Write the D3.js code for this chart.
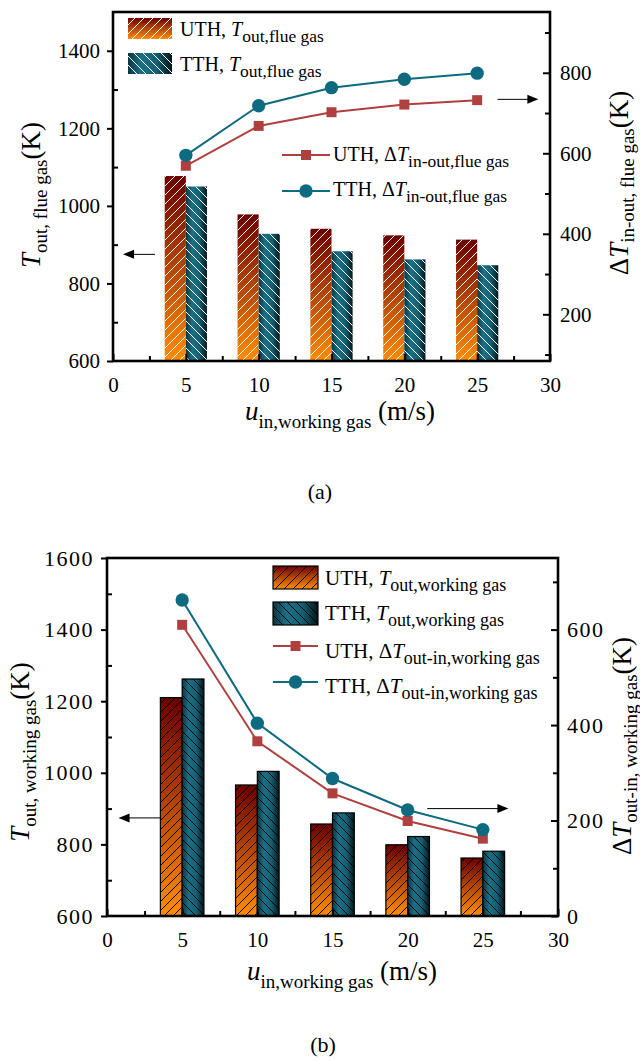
<!DOCTYPE html>
<html>
<head>
<meta charset="utf-8">
<script src="https://cdn.jsdelivr.net/npm/d3@7"></script>
<style>
  body { margin: 0; background: #fff; }
  svg { display: block; }
  text { font-family: "Liberation Serif", "Times New Roman", serif; fill: #000; white-space: pre; }
</style>
</head>
<body>
<div id="chart"></div>
<script>
// inlet speed of the working gas (m/s)
var speeds = [5, 10, 15, 20, 25];

// (a) flue gas
var flueOutUTH = [1077, 978, 941, 924, 913];
var flueOutTTH = [1050, 928, 883, 862, 847];
var flueDeltaUTH = [569, 668, 702, 721, 732];
var flueDeltaTTH = [595, 718, 763, 784, 799];

// (b) working gas
var workOutUTH = [1210, 966, 857, 799, 762];
var workOutTTH = [1262, 1004, 888, 822, 781];
var workDeltaUTH = [610, 366, 257, 199, 162];
var workDeltaTTH = [662, 404, 288, 222, 181];

var xTicks = [0, 5, 10, 15, 20, 25, 30];
var xMinor = [2.5, 7.5, 12.5, 17.5, 22.5, 27.5];

var width = 640, height = 1063;
var red = "#b0403f", teal = "#0e6a80";

var svg = d3.select("#chart").append("svg")
    .attr("width", width)
    .attr("height", height);

var defs = svg.append("defs");

// orange -> dark red, top to bottom
var gU = defs.append("linearGradient").attr("id", "gradU")
    .attr("x1", 0).attr("y1", 0).attr("x2", 0).attr("y2", 1);
gU.append("stop").attr("offset", 0).attr("stop-color", "#6c0000");
gU.append("stop").attr("offset", 1).attr("stop-color", "#ff8c00");

// teal, dark at the edges
var gT = defs.append("linearGradient").attr("id", "gradT")
    .attr("x1", 0).attr("y1", 0).attr("x2", 1).attr("y2", 0);
[[0, "#0a3542"], [0.3, "#1a7087"], [0.65, "#145f73"], [1, "#03161c"]].forEach(function (s) {
    gT.append("stop").attr("offset", s[0]).attr("stop-color", s[1]);
});

function hatch(id, color, forward) {
    var p = defs.append("pattern").attr("id", id)
        .attr("patternUnits", "userSpaceOnUse")
        .attr("width", 9).attr("height", 9);
    p.append("path")
        .attr("d", forward ? "M-1,1 L1,-1 M0,9 L9,0 M8,10 L10,8" : "M-1,8 L1,10 M0,0 L9,9 M8,-1 L10,1")
        .attr("stroke", color)
        .attr("stroke-width", 1);
}
hatch("hUw", "#fff", true);
hatch("hTw", "#fff", false);
hatch("hUk", "#000", true);
hatch("hTk", "#000", false);

// text with a subscript part
function richText(sel, x, y, parts, size, subSize, shift, anchor) {
    var t = sel.append("text").attr("x", x).attr("y", y)
        .attr("font-size", size)
        .attr("text-anchor", anchor || "start");
    var down = false;
    parts.forEach(function (p) {
        var ts = t.append("tspan").text(p.t);
        if (p.s) {
            ts.attr("font-size", subSize);
            if (!down) { ts.attr("dy", shift); down = true; }
        } else if (down) {
            ts.attr("dy", -shift); down = false;
        }
        if (p.i) ts.attr("font-style", "italic");
    });
    return t;
}

function arrow(g, x1, x2, y) {
    var dir = x2 > x1 ? 1 : -1;
    g.append("line")
        .attr("x1", x1).attr("x2", x2 - dir * 8)
        .attr("y1", y).attr("y2", y)
        .attr("stroke", "#000").attr("stroke-width", 1);
    g.append("path")
        .attr("d", "M" + x2 + "," + y + " l" + (-dir * 11) + ",-4.5 l0,9 Z")
        .attr("fill", "#000");
}

function drawPanel(p) {
    var g = svg.append("g");
    var x = d3.scaleLinear().domain([0, 30]).range([p.left, p.right]);
    var yL = d3.scaleLinear().domain(p.yL).range([p.bottom, p.top]);
    var yR = d3.scaleLinear().domain(p.yR).range([p.bottom, p.top]);
    var fmt = d3.format("d");

    var rows = speeds.map(function (s, i) {
        return {s: s, u: p.barU[i], t: p.barT[i], du: p.lineU[i], dt: p.lineT[i]};
    });
    var bw = 1.45;

    // bars: gradient, then hatch on top
    [["u", -bw, "gradU", p.hatchU], ["t", 0, "gradT", p.hatchT]].forEach(function (b) {
        var key = b[0];
        [b[2], b[3]].forEach(function (fill, k) {
            g.append("g").selectAll("rect")
                .data(rows)
                .enter().append("rect")
                .attr("x", function (d) { return x(d.s + b[1]); })
                .attr("width", x(bw) - x(0))
                .attr("y", function (d) { return yL(d[key]); })
                .attr("height", function (d) { return yL(p.yL[0]) - yL(d[key]); })
                .attr("fill", "url(#" + fill + ")")
                .attr("stroke", k ? p.barStroke : "none")
                .attr("stroke-width", 1.2);
        });
    });

    // delta lines on the right axis
    [["du", red, "square"], ["dt", teal, "circle"]].forEach(function (l) {
        var line = d3.line()
            .x(function (d) { return x(d.s); })
            .y(function (d) { return yR(d[l[0]]); });
        g.append("path").datum(rows)
            .attr("d", line)
            .attr("fill", "none")
            .attr("stroke", l[1])
            .attr("stroke-width", 2);
        g.append("g").selectAll("path")
            .data(rows)
            .enter().append("path")
            .attr("d", d3.symbol().type(l[2] === "square" ? d3.symbolSquare : d3.symbolCircle)
                .size(l[2] === "square" ? 100 : 140))
            .attr("transform", function (d) { return "translate(" + x(d.s) + "," + yR(d[l[0]]) + ")"; })
            .attr("fill", l[1]);
    });

    // frame
    g.append("rect")
        .attr("x", p.left).attr("y", p.top)
        .attr("width", p.right - p.left).attr("height", p.bottom - p.top)
        .attr("fill", "none").attr("stroke", "#000").attr("stroke-width", 2.6);

    function styleAxis(a, size, spacing) {
        a.select(".domain").remove();
        a.selectAll("line").attr("stroke-width", 2);
        a.selectAll("text").attr("font-size", size)
            .style("letter-spacing", spacing || "0px");
        a.attr("font-family", null).attr("font-size", null);
    }

    var ax = g.append("g").attr("transform", "translate(0," + p.bottom + ")")
        .call(d3.axisBottom(x).tickValues(xTicks).tickFormat(fmt).tickSizeInner(-7).tickSizeOuter(0).tickPadding(16));
    styleAxis(ax, 21);
    var axm = g.append("g").attr("transform", "translate(0," + p.bottom + ")")
        .call(d3.axisBottom(x).tickValues(xMinor).tickSizeInner(-5).tickSizeOuter(0).tickFormat(""));
    styleAxis(axm, 21);

    var al = g.append("g").attr("transform", "translate(" + p.left + ",0)")
        .call(d3.axisLeft(yL).tickValues(p.yLmajor).tickFormat(fmt).tickSizeInner(6).tickSizeOuter(0).tickPadding(7));
    styleAxis(al, p.tickSize, p.yLetter);
    var alm = g.append("g").attr("transform", "translate(" + p.left + ",0)")
        .call(d3.axisLeft(yL).tickValues(p.yLminor).tickSizeInner(-5).tickSizeOuter(0).tickFormat(""));
    styleAxis(alm, 21);

    var ar = g.append("g").attr("transform", "translate(" + p.right + ",0)")
        .call(d3.axisRight(yR).tickValues(p.yRmajor).tickFormat(fmt).tickSizeInner(-7).tickSizeOuter(0).tickPadding(p.rPad));
    styleAxis(ar, p.tickSize, p.yLetter);
    var arm = g.append("g").attr("transform", "translate(" + p.right + ",0)")
        .call(d3.axisRight(yR).tickValues(p.yRminor).tickSizeInner(-5).tickSizeOuter(0).tickFormat(""));
    styleAxis(arm, 21);

    // legend: bars
    var lg = p.legend;
    [["gradU", p.hatchU, p.barLabelU], ["gradT", p.hatchT, p.barLabelT]].forEach(function (e, i) {
        var yy = lg.barY[i];
        g.append("rect").attr("x", lg.sx).attr("y", yy).attr("width", lg.sw).attr("height", lg.sh)
            .attr("fill", "url(#" + e[0] + ")");
        g.append("rect").attr("x", lg.sx).attr("y", yy).attr("width", lg.sw).attr("height", lg.sh)
            .attr("fill", "url(#" + e[1] + ")")
            .attr("stroke", p.barStroke).attr("stroke-width", 1.2);
        richText(g, lg.barTextX, lg.barTextY[i], e[2], lg.font, lg.subFont, 6);
    });

    // legend: lines
    [[red, d3.symbolSquare, 100, p.lineLabelU], [teal, d3.symbolCircle, 140, p.lineLabelT]].forEach(function (e, i) {
        var yy = lg.lineY[i];
        g.append("line").attr("x1", lg.lx1).attr("x2", lg.lx2).attr("y1", yy).attr("y2", yy)
            .attr("stroke", e[0]).attr("stroke-width", 2);
        g.append("path").attr("d", d3.symbol().type(e[1]).size(e[2]))
            .attr("transform", "translate(" + ((lg.lx1 + lg.lx2) / 2) + "," + yy + ")")
            .attr("fill", e[0]);
        richText(g, lg.lineTextX, lg.lineTextY[i], e[3], lg.font, lg.subFont, 6);
    });

    // arrows pointing at the axes
    arrow(g, x(p.arrowL[0]), x(p.arrowL[1]), yL(p.arrowL[2]));
    arrow(g, x(p.arrowR[0]), x(p.arrowR[1]), yR(p.arrowR[2]));

    // axis titles
    var tl = g.append("g").attr("transform", "translate(" + p.titleL[0] + "," + p.titleL[1] + ") rotate(-90)");
    richText(tl, 0, 0, p.titleLParts, 27, 19, 7, "middle");
    var tr = g.append("g").attr("transform", "translate(" + p.titleR[0] + "," + p.titleR[1] + ") rotate(-90)");
    richText(tr, 0, 0, p.titleRParts, 27, 19, 6, "middle");
    richText(g, p.titleX[0], p.titleX[1],
        [{t: "u", i: 1}, {t: "in,working gas", s: 1}, {t: " (m/s)"}], 27, 19, 8, "middle");

    g.append("text").attr("x", p.tag[0]).attr("y", p.tag[1])
        .attr("font-size", 22).attr("text-anchor", "middle").text(p.tag[2]);
}

drawPanel({
    left: 113, right: 550, top: 12, bottom: 361,
    yL: [600, 1500], yR: [84, 951],
    yLmajor: [600, 800, 1000, 1200, 1400], yLminor: [700, 900, 1100, 1300],
    yRmajor: [200, 400, 600, 800], yRminor: [100, 300, 500, 700, 900],
    tickSize: 21, yLetter: "0px", rPad: 10,
    barU: flueOutUTH, barT: flueOutTTH, lineU: flueDeltaUTH, lineT: flueDeltaTTH,
    hatchU: "hUw", hatchT: "hTw", barStroke: "none",
    barLabelU: [{t: "UTH, "}, {t: "T", i: 1}, {t: "out,flue gas", s: 1}],
    barLabelT: [{t: "TTH, "}, {t: "T", i: 1}, {t: "out,flue gas", s: 1}],
    lineLabelU: [{t: "UTH, \u0394"}, {t: "T", i: 1}, {t: "in-out,flue gas", s: 1}],
    lineLabelT: [{t: "TTH, \u0394"}, {t: "T", i: 1}, {t: "in-out,flue gas", s: 1}],
    legend: {
        sx: 128, sw: 44, sh: 21, barY: [18, 53], barTextX: 180, barTextY: [36, 71],
        lx1: 282, lx2: 330, lineY: [155, 191], lineTextX: 333, lineTextY: [161, 196],
        font: 20, subFont: 17.5
    },
    arrowL: [2.88, 0.69, 875], arrowR: [26.4, 29.2, 734],
    titleL: [40, 195], titleLParts: [{t: "T", i: 1}, {t: "out, flue gas", s: 1}, {t: "(K)"}],
    titleR: [628, 183], titleRParts: [{t: "\u0394"}, {t: "T", i: 1}, {t: "in-out, flue gas", s: 1}, {t: "(K)"}],
    titleX: [340, 420],
    tag: [320, 499, "(a)"]
});

drawPanel({
    left: 107, right: 558, top: 558, bottom: 916,
    yL: [600, 1600], yR: [0, 750],
    yLmajor: [600, 800, 1000, 1200, 1400, 1600], yLminor: [700, 900, 1100, 1300, 1500],
    yRmajor: [0, 200, 400, 600], yRminor: [100, 300, 500, 700],
    tickSize: 22, yLetter: "1.5px", rPad: 9,
    barU: workOutUTH, barT: workOutTTH, lineU: workDeltaUTH, lineT: workDeltaTTH,
    hatchU: "hUk", hatchT: "hTk", barStroke: "#000",
    barLabelU: [{t: "UTH, "}, {t: "T", i: 1}, {t: "out,working gas", s: 1}],
    barLabelT: [{t: "TTH, "}, {t: "T", i: 1}, {t: "out,working gas", s: 1}],
    lineLabelU: [{t: "UTH, \u0394"}, {t: "T", i: 1}, {t: "out-in,working gas", s: 1}],
    lineLabelT: [{t: "TTH, \u0394"}, {t: "T", i: 1}, {t: "out-in,working gas", s: 1}],
    legend: {
        sx: 273, sw: 45, sh: 23, barY: [566, 602], barTextX: 325, barTextY: [585, 620],
        lx1: 273, lx2: 318, lineY: [646, 682], lineTextX: 325, lineTextY: [658, 693],
        font: 21, subFont: 18
    },
    arrowL: [3.54, 0.77, 874], arrowR: [21.3, 26.7, 225],
    titleL: [29, 752], titleLParts: [{t: "T", i: 1}, {t: "out, working gas", s: 1}, {t: "(K)"}],
    titleR: [631, 746], titleRParts: [{t: "\u0394"}, {t: "T", i: 1}, {t: "out-in, working gas", s: 1}, {t: "(K)"}],
    titleX: [342, 980],
    tag: [323, 1052, "(b)"]
});
</script>
</body>
</html>
